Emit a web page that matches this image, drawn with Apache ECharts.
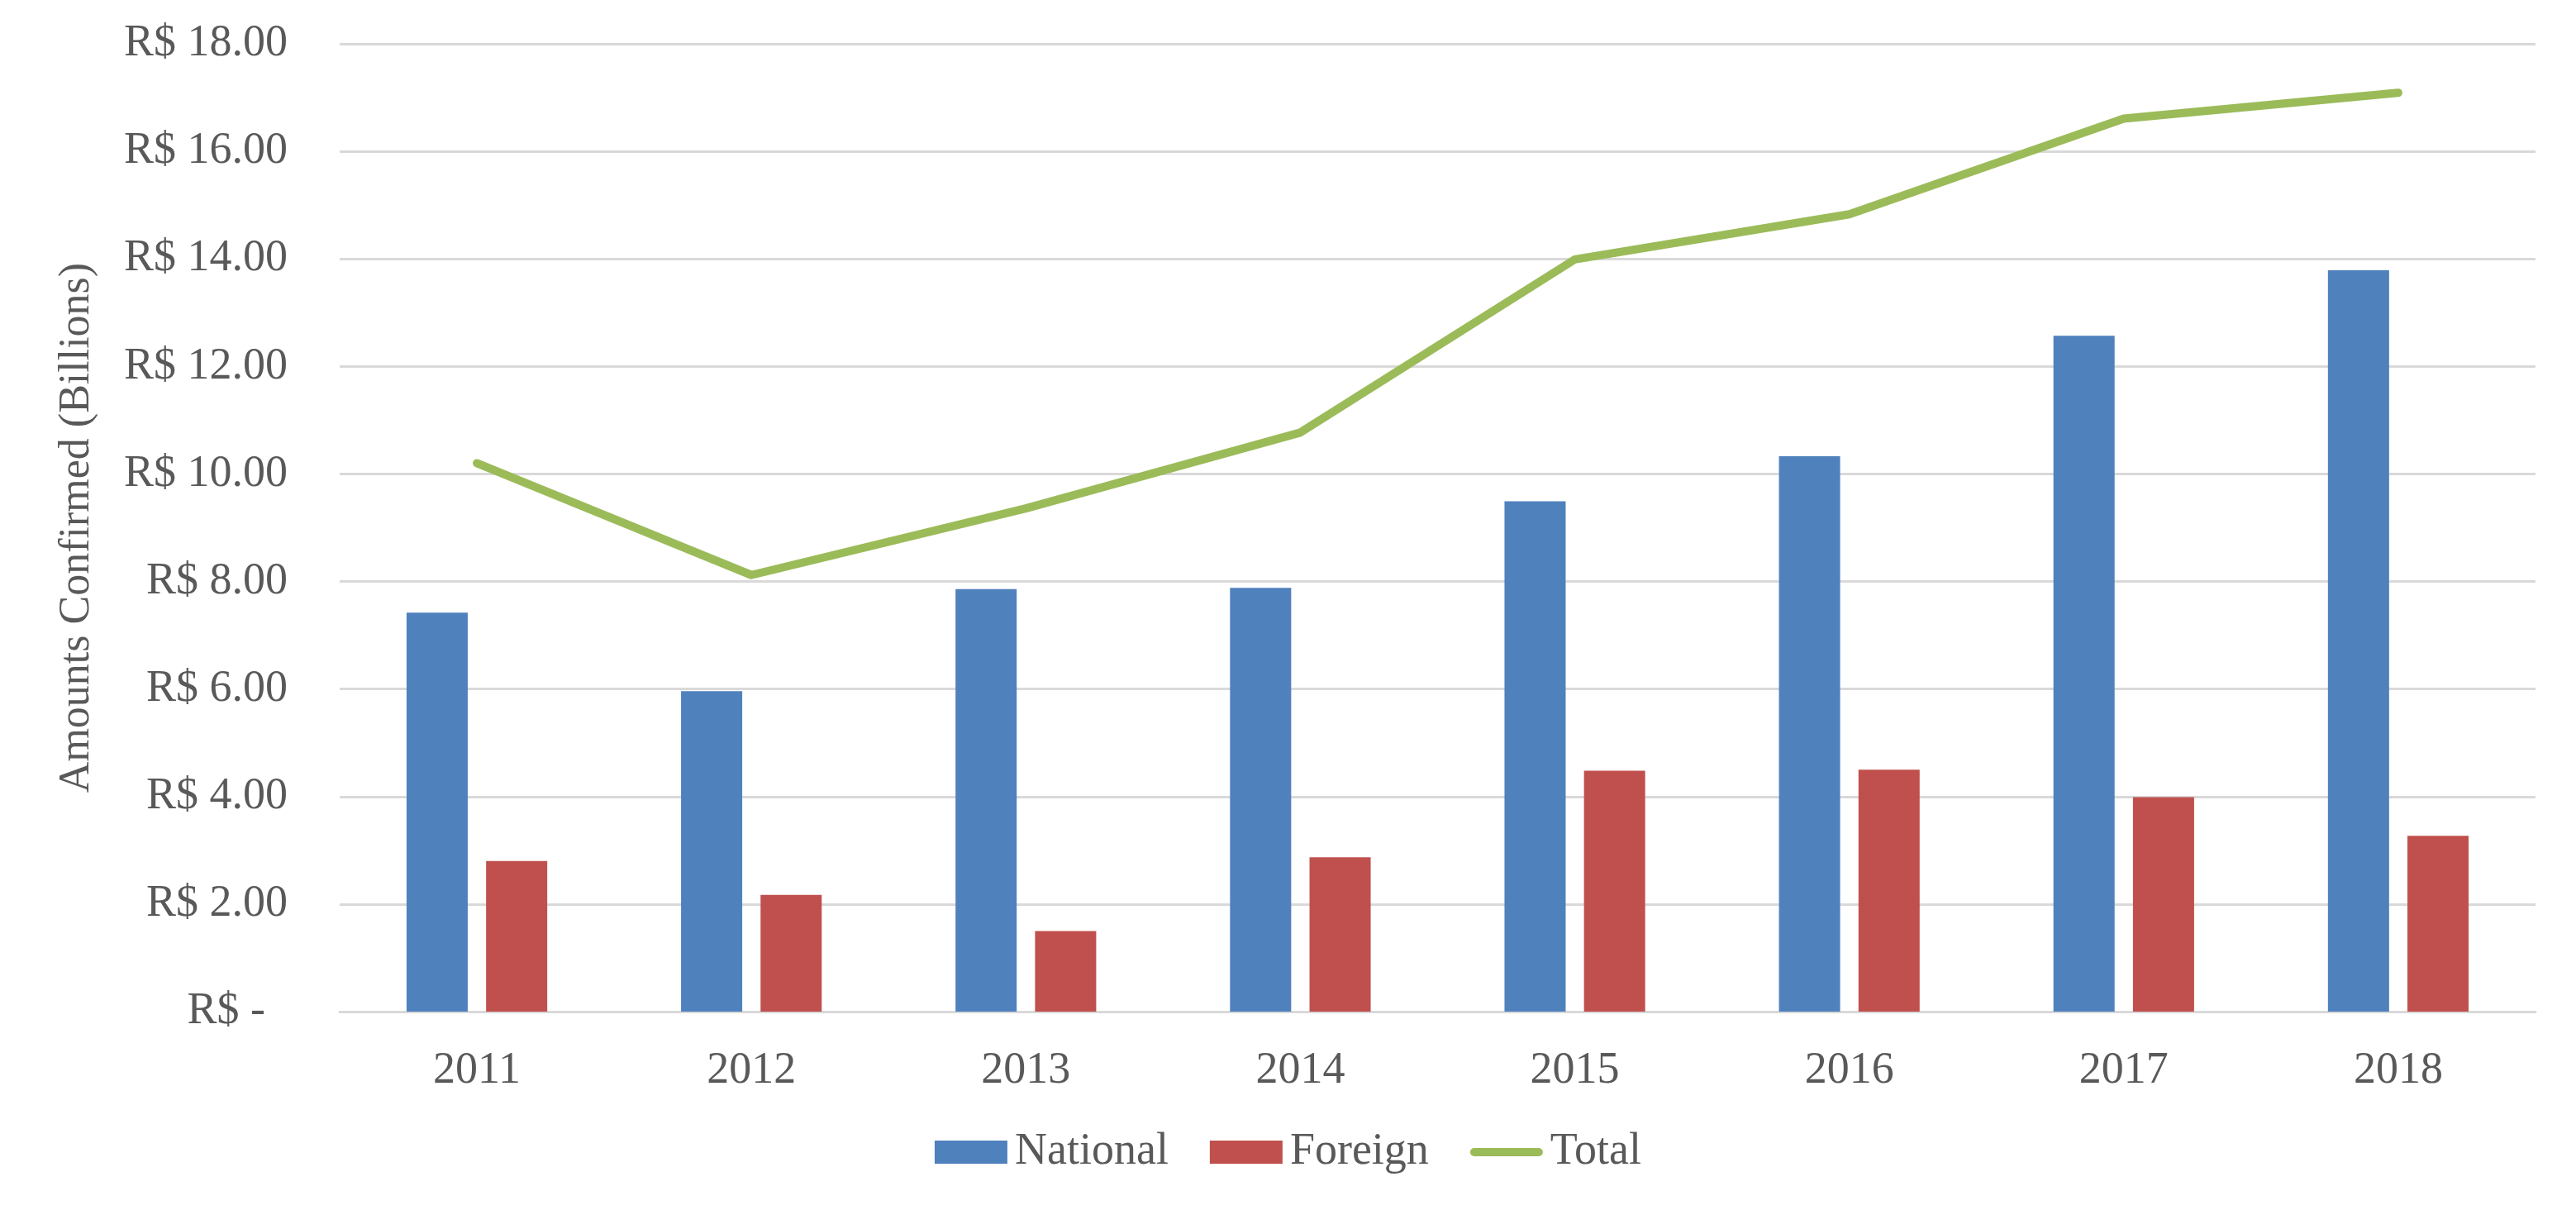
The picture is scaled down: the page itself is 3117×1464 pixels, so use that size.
<!DOCTYPE html>
<html>
<head>
<meta charset="utf-8">
<title>Amounts Confirmed</title>
<script src="https://cdn.jsdelivr.net/npm/echarts@6/dist/echarts.min.js"></script>
<style>
    html, body { margin: 0; padding: 0; background: #ffffff; }
    #main { width: 3117px; height: 1464px; }
</style>
</head>
<body>
<div id="main"></div>
<script type="text/javascript">
    // data (billions of R$)
    var years = ['2011', '2012', '2013', '2014', '2015', '2016', '2017', '2018'];
    var national = [7.42, 5.96, 7.86, 7.88, 9.49, 10.33, 12.57, 13.79];
    var foreign = [2.80, 2.17, 1.50, 2.87, 4.48, 4.50, 3.99, 3.27];
    var total = [10.20, 8.12, 9.36, 10.77, 13.99, 14.83, 16.61, 17.09];

    var font = 'Liberation Serif';
    var textColor = '#595959';
    var myChart = echarts.init(document.getElementById('main'));

    // capsule shaped legend icon for the line series (thick line with round ends)
    var lineIcon = 'path://M5,0 L83,0 A5,5 0 0 1 83,10 L5,10 A5,5 0 0 1 5,0 Z';

    var option = {
        animation: false,
        backgroundColor: '#ffffff',
        grid: {
            left: 411,
            right: 49,
            top: 53,
            bottom: 240,
            containLabel: false
        },
        legend: {
            data: [
                { name: 'National', icon: 'rect' },
                { name: 'Foreign', icon: 'rect' },
                { name: 'Total', icon: lineIcon, itemStyle: { color: '#9bbb59' } }
            ],
            left: 'center',
            top: 1362,
            itemWidth: 88,
            itemHeight: 28,
            itemGap: 50,
            textStyle: {
                fontFamily: font,
                fontSize: 54,
                color: textColor,
                padding: [0, 0, 0, 4]
            }
        },
        xAxis: {
            type: 'category',
            data: years,
            axisLine: { lineStyle: { color: '#d9d9d9', width: 3 } },
            axisTick: { show: false },
            axisLabel: {
                margin: 45,
                fontFamily: font,
                fontSize: 54,
                color: textColor
            }
        },
        yAxis: {
            type: 'value',
            min: 0,
            max: 18,
            interval: 2,
            name: 'Amounts Confirmed (Billions)',
            nameLocation: 'middle',
            nameGap: 292,
            nameTextStyle: {
                fontFamily: font,
                fontSize: 52,
                color: textColor
            },
            axisLine: { show: false },
            axisTick: { show: false },
            splitLine: { lineStyle: { color: '#d9d9d9', width: 3 } },
            axisLabel: {
                margin: 63,
                fontFamily: font,
                fontSize: 54,
                color: textColor,
                formatter: function (v) {
                    return v === 0 ? 'R$ -  ' : 'R$ ' + v.toFixed(2);
                }
            }
        },
        series: [
            {
                name: 'National',
                type: 'bar',
                data: national,
                barWidth: 74,
                barGap: '30%',
                itemStyle: { color: '#4f81bd' }
            },
            {
                name: 'Foreign',
                type: 'bar',
                data: foreign,
                barWidth: 74,
                barGap: '30%',
                itemStyle: { color: '#c0504d' }
            },
            {
                name: 'Total',
                type: 'line',
                data: total,
                symbol: 'none',
                showSymbol: false,
                itemStyle: { color: '#9bbb59' },
                lineStyle: { color: '#9bbb59', width: 10, cap: 'round', join: 'round' }
            }
        ]
    };

    myChart.setOption(option);
</script>
</body>
</html>
